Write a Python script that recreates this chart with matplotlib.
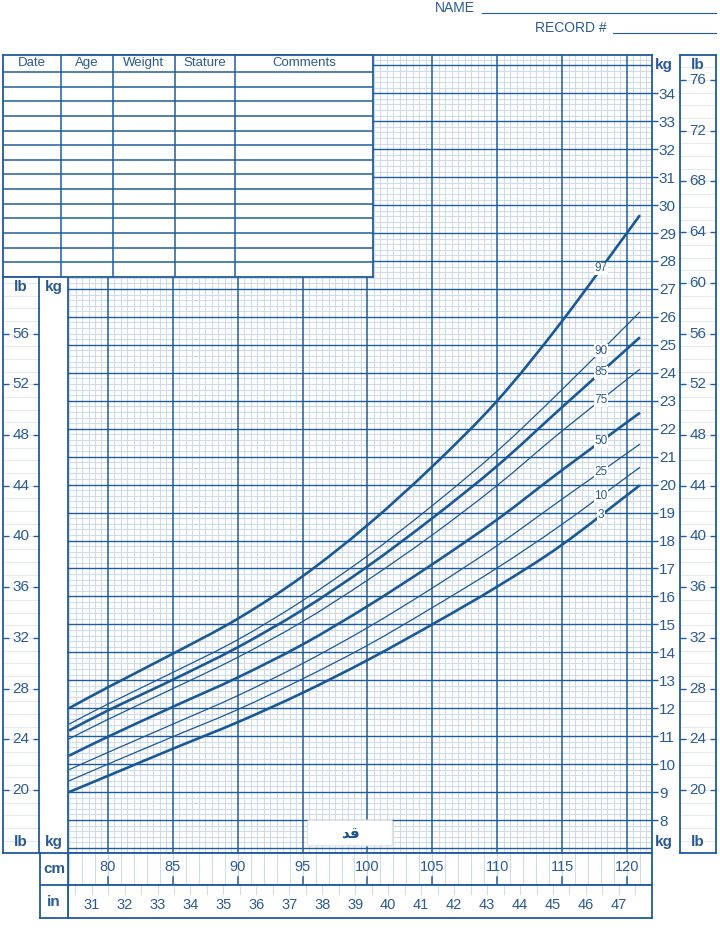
import matplotlib.pyplot as plt
import numpy as np
from matplotlib.lines import Line2D
from matplotlib.patches import FancyBboxPatch, PathPatch
from matplotlib.path import Path

plt.rcParams['font.family'] = ['Liberation Sans', 'DejaVu Sans']

# stature (cm) and weight (kg) per percentile
stature_cm = [77, 80, 85, 90, 95, 100, 105, 110, 115, 121]
p3 = [9.0, 9.58, 10.55, 11.5, 12.55, 13.72, 15.0, 16.35, 17.85, 19.98]
p10 = [9.4, 10.0, 10.98, 11.95, 13.05, 14.25, 15.6, 17.02, 18.58, 20.62]
p25 = [9.8, 10.42, 11.43, 12.45, 13.6, 14.88, 16.3, 17.82, 19.48, 21.45]
p50 = [10.3, 10.98, 12.05, 13.1, 14.28, 15.65, 17.15, 18.75, 20.52, 22.57]
p75 = [10.9, 11.6, 12.7, 13.82, 15.1, 16.58, 18.2, 19.97, 21.92, 24.13]
p85 = [11.2, 11.92, 13.02, 14.18, 15.52, 17.07, 18.8, 20.67, 22.77, 25.27]
p90 = [11.43, 12.15, 13.28, 14.45, 15.85, 17.45, 19.25, 21.2, 23.4, 26.18]
p97 = [12.0, 12.75, 13.95, 15.2, 16.72, 18.55, 20.65, 23.0, 25.85, 29.64]

curves = [("3", p3, True), ("10", p10, False), ("25", p25, False), ("50", p50, True),
          ("75", p75, False), ("85", p85, True), ("90", p90, False), ("97", p97, True)]

table_cols = ["Date", "Age", "Weight", "Stature", "Comments"]
kg_ticks_left = list(range(8, 27))
kg_ticks_right = list(range(8, 35))
lb_ticks_left = list(range(20, 57, 4))
lb_ticks_right = list(range(20, 77, 4))
cm_labels = list(range(80, 121, 5))
in_labels = list(range(31, 48))

W, H = 720, 938
BLUE = "#1f5c9c"
TEXT = "#2b5a8e"
LIGHT = "#cfdbe9"
CURVE = "#1a5896"
CM_LIM = (76.92, 121.93)
KG_LIM = (6.82, 35.37)
LB = 2.20462


def rect(x0, y0, x1, y1):
    return [x0 / W, 1 - y1 / H, (x1 - x0) / W, (y1 - y0) / H]


def kg_at(py):
    return KG_LIM[1] - (py - 55) / (853 - 55) * (KG_LIM[1] - KG_LIM[0])


def style_spines(a, lw=1.3):
    for s in a.spines.values():
        s.set_color(BLUE)
        s.set_linewidth(lw)


def smooth_path(xs, ys):
    # Catmull-Rom through the points, as cubic Bezier segments
    p = np.column_stack([xs, ys]).astype(float)
    ext = np.vstack([2 * p[0] - p[1], p, 2 * p[-1] - p[-2]])
    verts = [p[0]]
    codes = [Path.MOVETO]
    for i in range(1, len(ext) - 2):
        c1 = ext[i] + (ext[i + 1] - ext[i - 1]) / 6
        c2 = ext[i + 1] - (ext[i + 2] - ext[i]) / 6
        verts += [c1, c2, ext[i + 1]]
        codes += [Path.CURVE4] * 3
    return Path(verts, codes)


fig = plt.figure(figsize=(7.2, 9.38), dpi=100)

# main grid
ax = fig.add_axes(rect(68, 55, 652, 853))
ax.set_xlim(*CM_LIM)
ax.set_ylim(*KG_LIM)
for v in np.arange(77, 122.01, 0.5):
    if v % 5:
        ax.axvline(v, color=LIGHT, lw=0.8, zorder=0)
for h in np.round(np.arange(7.0, 35.4, 0.2), 1):
    if h % 1:
        ax.axhline(h, color=LIGHT, lw=0.8, zorder=0)
for h in range(7, 36):
    ax.axhline(h, color=BLUE, lw=1.0, zorder=1)
for v in range(80, 121, 5):
    ax.axvline(v, color=BLUE, lw=1.1, zorder=1)

for name, vals, thick in curves:
    ax.add_patch(PathPatch(smooth_path(stature_cm, vals), fc="none", ec=CURVE,
                           lw=1.9 if thick else 0.9, zorder=3, capstyle="butt"))
    ax.text(118, np.interp(118, stature_cm, vals), name, ha="center", va="center",
            fontsize=8.5, color=TEXT, zorder=4,
            bbox=dict(boxstyle="square,pad=0.05", fc="white", ec="none"))

ax.set_xticks([])
ax.set_yticks(kg_ticks_right)
ax.tick_params(axis="y", direction="out", length=4, width=1, color=BLUE,
               labelcolor=TEXT, labelsize=11, left=True, right=True,
               labelleft=True, labelright=True, pad=1)
for t in ax.yaxis.get_major_ticks():
    if t.get_loc() not in kg_ticks_left:
        t.label1.set_visible(False)
        t.tick1line.set_visible(False)
style_spines(ax)

# record table over the upper-left corner
tab = fig.add_axes(rect(3, 55, 373, 277))
tab.set_xlim(3, 373)
tab.set_ylim(277, 55)
tab.set_xticks([])
tab.set_yticks([])
tab.set_facecolor("white")
col_edges = [3, 61, 113, 175, 235, 373]
for x in col_edges[1:-1]:
    tab.axvline(x, color=BLUE, lw=1.1)
for i in range(14):
    tab.axhline(72 + i * 14.64, color=BLUE, lw=1.1)
for i, name in enumerate(table_cols):
    tab.text((col_edges[i] + col_edges[i + 1]) / 2, 63, name, ha="center",
             va="center", fontsize=9.5, color=TEXT)
style_spines(tab)

# left lb column
lbl = fig.add_axes(rect(3, 277, 39, 853))
lbl.set_xlim(0, 1)
lbl.set_ylim(KG_LIM[0] * LB, kg_at(277) * LB)
for v in range(16, 61):
    lbl.axhline(v, color="#e4e9f0", lw=0.7, zorder=0)
lbl.set_xticks([])
lbl.set_yticks(lb_ticks_left)
lbl.tick_params(axis="y", direction="in", length=4, width=1, color=BLUE,
                left=True, right=True, labelleft=False)
for v in lb_ticks_left:
    lbl.text(0.5, v, str(v), transform=lbl.get_yaxis_transform(), ha="center",
             va="center", fontsize=11, color=TEXT)
style_spines(lbl)

# right lb column
lbr = fig.add_axes(rect(680, 55, 716, 853))
lbr.set_xlim(0, 1)
lbr.set_ylim(KG_LIM[0] * LB, KG_LIM[1] * LB)
for v in range(16, 79):
    lbr.axhline(v, color="#e4e9f0", lw=0.7, zorder=0)
lbr.set_xticks([])
lbr.set_yticks(lb_ticks_right)
lbr.tick_params(axis="y", direction="in", length=4, width=1, color=BLUE,
                left=True, right=True, labelleft=False)
for v in lb_ticks_right:
    lbr.text(0.5, v, str(v), transform=lbr.get_yaxis_transform(), ha="center",
             va="center", fontsize=11, color=TEXT)
style_spines(lbr)

# unit headers
for px, py, s in [(21, 287, "lb"), (54, 287, "kg"), (21, 842, "lb"), (54, 842, "kg"),
                  (664, 65, "kg"), (698, 65, "lb"), (664, 842, "kg"), (698, 842, "lb")]:
    fig.text(px / W, 1 - py / H, s, ha="center", va="center", fontsize=11,
             fontweight="bold", color=TEXT)

# cm row
cmax = fig.add_axes(rect(68, 853, 652, 885))
cmax.set_xlim(*CM_LIM)
cmax.set_ylim(0, 1)
for v in range(77, 122):
    cmax.axvline(v, color=LIGHT, lw=0.8, zorder=0)
for v in cm_labels:
    cmax.plot([v, v], [0, 0.25], color=BLUE, lw=1.1)
    cmax.text(v, 0.55, str(v), ha="center", va="center", fontsize=10.5, color=TEXT)
cmax.set_xticks([])
cmax.set_yticks([])
style_spines(cmax)

# inch row
inax = fig.add_axes(rect(68, 885, 652, 918))
inax.set_xlim(CM_LIM[0] / 2.54, CM_LIM[1] / 2.54)
inax.set_ylim(0, 1)
for v in np.arange(30.5, 48.1, 0.5):
    inax.plot([v, v], [0.72, 1], color=LIGHT, lw=0.8, zorder=0)
for v in in_labels:
    inax.text(v, 0.4, str(v), ha="center", va="center", fontsize=10.5, color=TEXT)
inax.set_xticks([])
inax.set_yticks([])
style_spines(inax)

# unit label column for cm / in
unit = fig.add_axes(rect(40, 853, 68, 918))
unit.set_xlim(0, 1)
unit.set_ylim(918, 853)
unit.axhline(885, color=BLUE, lw=1.3)
unit.text(0.5, 869, "cm", ha="center", va="center", fontsize=11, fontweight="bold", color=TEXT)
unit.text(0.5, 902, "in", ha="center", va="center", fontsize=11, fontweight="bold", color=TEXT)
unit.set_xticks([])
unit.set_yticks([])
style_spines(unit)

# Arabic axis title box
fig.add_artist(FancyBboxPatch((309 / W, 1 - 844 / H), 82 / W, 22 / H,
                              boxstyle="round,pad=0.002", fc="white", ec="#e2e2e2",
                              lw=0.8, transform=fig.transFigure, zorder=5))
fig.text(350 / W, 1 - 834 / H, "\uFEAA\uFED7", ha="center", va="center",
         fontsize=11, fontweight="bold", color="#1f4f8a", zorder=6,
         family=["DejaVu Sans"])

# name / record header
fig.text(435 / W, 1 - 8 / H, "NAME", ha="left", va="center", fontsize=10, color=TEXT)
fig.add_artist(Line2D([482 / W, 716 / W], [1 - 13 / H] * 2, color=BLUE, lw=0.8))
fig.text(535 / W, 1 - 28 / H, "RECORD #", ha="left", va="center", fontsize=10, color=TEXT)
fig.add_artist(Line2D([613 / W, 716 / W], [1 - 33 / H] * 2, color=BLUE, lw=0.8))

fig.savefig("out.png", dpi=100, facecolor="white")
